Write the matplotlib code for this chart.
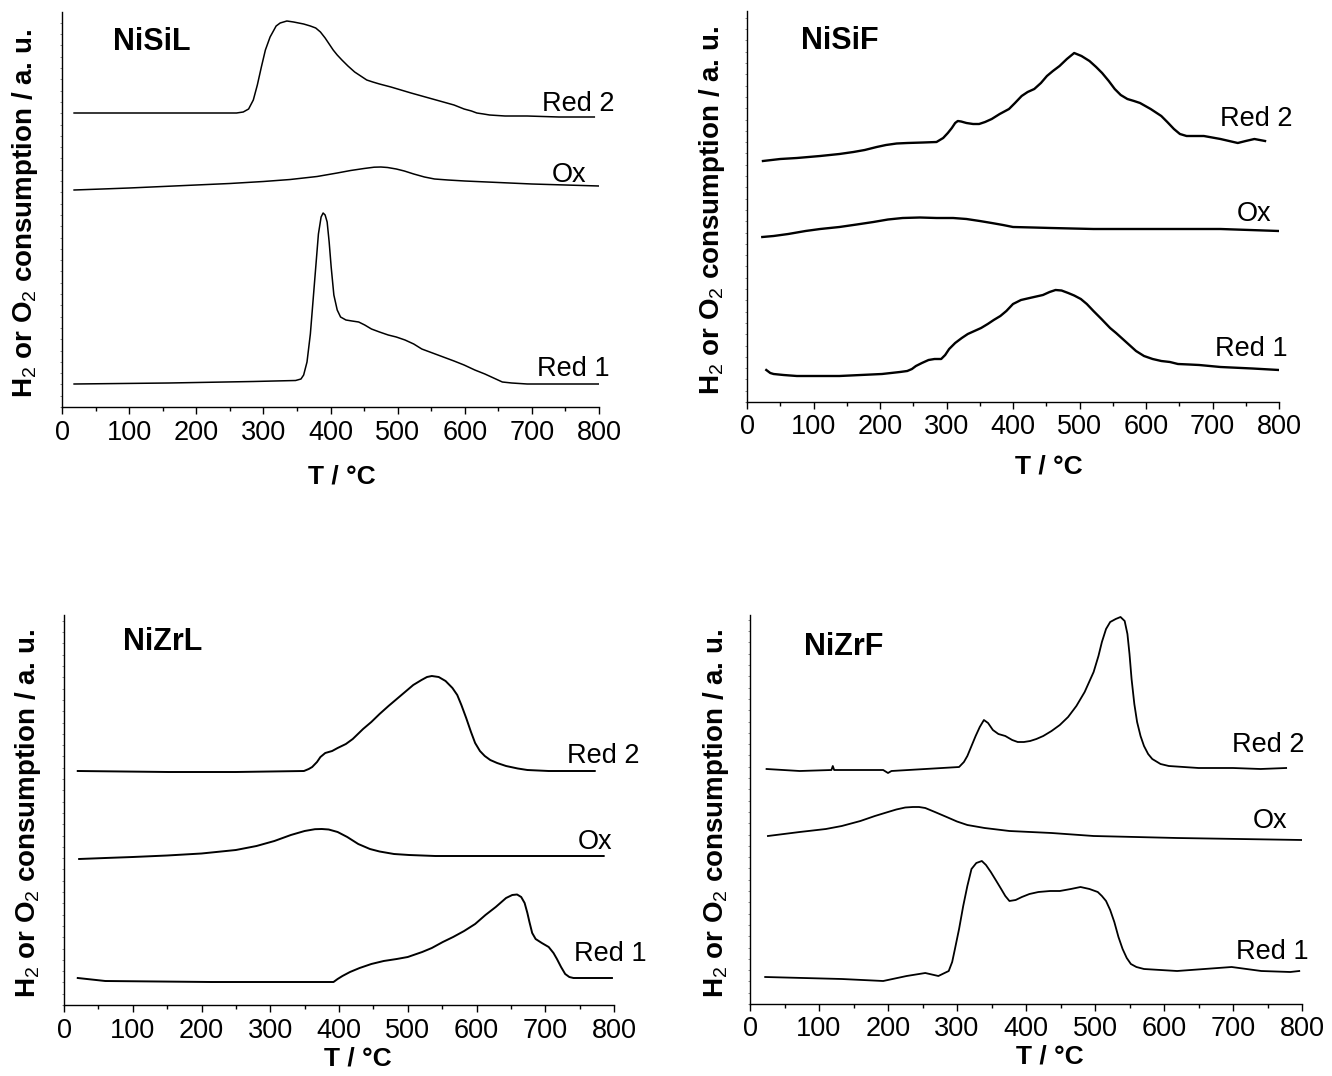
import matplotlib
matplotlib.use("Agg")
import matplotlib.pyplot as plt
from matplotlib.ticker import MultipleLocator

plt.rcParams["font.family"] = ["Liberation Sans", "DejaVu Sans"]
plt.rcParams["mathtext.fontset"] = "custom"
plt.rcParams["mathtext.rm"] = "Liberation Sans"
plt.rcParams["mathtext.it"] = "Liberation Sans:italic"
plt.rcParams["mathtext.bf"] = "Liberation Sans:bold"

# ---------------- NiSiL ----------------
nisil_red2_T = [18, 150, 260, 270, 278, 285, 291, 297, 303, 310, 319, 325, 335, 345, 360, 370,
                378, 385, 392, 398, 404, 410, 417, 426, 436, 445, 454, 463, 473, 490, 505, 520,
                536, 552, 568, 584, 599, 610, 618, 628, 637, 660, 693, 740, 793]
nisil_red2_y = [294, 294, 294, 295, 298, 307, 322, 340, 357, 370, 381, 384, 386, 385, 383, 381,
                379, 375, 369, 363, 357, 352, 347, 341, 335, 331, 327, 325, 323, 320, 317, 314,
                311, 308, 305, 302, 298, 296, 294, 293, 292, 291, 291, 290, 290]
nisil_ox_T = [18, 60, 100, 150, 200, 250, 300, 340, 380, 410, 430, 450, 465, 475, 485, 498,
              510, 524, 540, 555, 575, 600, 650, 700, 750, 800]
nisil_ox_y = [217, 218, 219, 220.5, 222, 223.5, 225.5, 227.5, 230.5, 234, 236.5, 238.5, 239.8,
              240, 239.5, 238, 236, 233, 230, 228, 227, 226, 224.5, 223, 222, 221]
nisil_red1_T = [18, 159, 285, 348, 356, 360, 365, 370, 376, 382, 386, 389, 392, 395, 398, 401,
                405, 410, 415, 423, 432, 442, 451, 461, 473, 486, 498, 511, 524, 536, 552, 568,
                584, 599, 615, 630, 643, 656, 670, 693, 740, 800]
nisil_red1_y = [23, 24, 25.5, 26.5, 28, 32, 45, 73, 123, 173, 190, 194, 192, 185, 165, 140,
                112, 97, 90, 87, 86, 85, 82, 78, 75, 72, 70, 67, 63, 58, 54, 50,
                46, 42, 37, 33, 29, 25, 24, 23, 23, 23]

# ---------------- NiSiF ----------------
nisif_red2_T = [24, 50, 75, 110, 139, 160, 177, 195, 209, 225, 241, 265, 285, 295, 302, 308,
                313, 317, 322, 330, 340, 349, 358, 368, 380, 394, 403, 413, 422, 432, 442, 451,
                460, 470, 481, 492, 503, 515, 525, 534, 544, 553, 562, 572, 582, 591, 607, 623,
                632, 642, 651, 661, 687, 712, 738, 750, 763, 779]
nisif_red2_y = [241, 243, 244, 246, 248, 250, 252, 255, 257, 258.5, 259, 259.5, 260, 264, 269, 274,
                279, 281, 280.5, 279, 278, 278, 280, 283, 288, 293, 299, 306, 310, 313, 319, 326,
                331, 336, 343, 349, 346, 341, 335, 329, 321, 313, 307, 303, 301, 299, 293, 286,
                280, 273, 268, 266, 266, 263, 259, 261, 263, 261]
nisif_ox_T = [23, 40, 62, 88, 110, 139, 165, 190, 212, 234, 260, 285, 310, 330, 350, 368,
              385, 400, 430, 457, 521, 648, 712, 800]
nisif_ox_y = [165, 166, 168, 171, 173, 175, 177.5, 180, 182.5, 184, 184.5, 184, 184, 183, 181,
              179, 177, 175, 174.5, 174, 173, 173, 173, 171]
nisif_red1_T = [29, 35, 40, 55, 75, 139, 203, 230, 241, 248, 254, 263, 273, 282, 292, 298,
                304, 313, 323, 332, 342, 352, 362, 371, 381, 390, 400, 412, 425, 435, 445, 455,
                464, 473, 483, 492, 502, 511, 521, 533, 546, 555, 565, 575, 585, 597, 610, 623,
                636, 648, 665, 680, 712, 760, 800]
nisif_red1_y = [32, 29, 28, 27, 26, 26, 28, 30, 31, 33, 36, 39, 42, 43, 43, 47,
                53, 59, 64, 68, 71, 74, 78, 82, 86, 91, 98, 102, 104, 105.5, 107, 110,
                112, 111.5, 109, 106.5, 103, 98, 91, 83, 74, 69, 63, 57, 51, 46, 43, 41,
                40, 38, 37.5, 37, 35, 33.5, 32]

# ---------------- NiZrL ----------------
nizrl_red2_T = [20, 152, 250, 349, 356, 361, 368, 373, 380, 390, 398, 410, 420, 435, 447, 459,
                472, 484, 496, 508, 520, 528, 535, 545, 555, 565, 572, 578, 585, 592, 598, 605,
                612, 620, 630, 643, 660, 674, 705, 772]
nizrl_red2_y = [234, 233, 233, 234, 236, 238, 243, 248, 252, 254, 257, 261, 266, 276, 283, 291,
                299, 306, 313, 320, 325, 328, 329, 328, 324, 317, 310, 300, 287, 273, 262, 254,
                249, 245, 242, 239, 236.5, 235, 234, 234]
nizrl_ox_T = [22, 60, 100, 150, 200, 250, 280, 306, 330, 350, 365, 375, 385, 398, 412, 428,
              445, 459, 480, 502, 540, 600, 785]
nizrl_ox_y = [146, 147, 148, 149.5, 151.5, 155, 159, 164, 170, 174, 175.8, 176, 175.5, 173,
              168, 161, 156, 153.5, 151, 150, 149, 149, 149]
nizrl_red1_T = [20, 60, 214, 392, 398, 405, 416, 430, 447, 465, 484, 500, 521, 535, 551, 566,
                582, 598, 613, 628, 643, 652, 659, 665, 670, 674, 677, 681, 686, 695, 705, 712,
                717, 723, 729, 735, 741, 797]
nizrl_red1_y = [27, 24, 23, 23, 26, 29, 33, 37, 41, 44, 46, 48, 53, 57, 63, 68,
                74, 81, 90, 98, 107, 110, 110.5, 108, 102, 92, 83, 72, 66, 62, 58, 52,
                46, 38, 31, 28, 27, 27]

# ---------------- NiZrF ----------------
nizrf_red2_T = [24, 72, 118, 120, 122, 193, 200, 205, 254, 303, 310, 315, 321, 327, 333, 339,
                345, 352, 360, 370, 380, 388, 397, 406, 415, 425, 437, 449, 461, 473, 485, 498,
                505, 510, 516, 522, 530, 537, 543, 547, 550, 553, 557, 561, 566, 571, 577, 583,
                595, 607, 650, 700, 740, 777]
nizrf_red2_y = [235, 233, 234, 238, 234, 234, 231, 233, 235, 237, 242, 248, 258, 268, 277, 284,
                281, 274, 270, 268, 264, 262, 262, 263, 265, 268, 273, 279, 287, 298, 312, 332,
                348, 362, 375, 382, 385, 387, 383, 370, 350, 325, 300, 282, 268, 258, 250, 245,
                240, 238, 236, 236, 235, 236]
nizrf_ox_T = [26, 72, 110, 133, 160, 181, 200, 212, 225, 236, 245, 254, 268, 285, 300, 315,
              340, 376, 437, 498, 619, 800]
nizrf_ox_y = [168, 172, 175, 178, 183, 188, 192, 194.5, 196.5, 197, 197, 196, 192, 187, 182.5,
              179, 176, 173, 171, 168, 166, 164]
nizrf_red1_T = [22, 133, 193, 227, 254, 273, 288, 293, 297, 303, 309, 315, 321, 328, 336, 342,
                349, 357, 364, 370, 376, 385, 394, 405, 418, 435, 449, 465, 479, 492, 504, 510,
                516, 522, 528, 534, 540, 546, 552, 560, 571, 619, 698, 741, 783, 796]
nizrf_red1_y = [27, 25, 23, 28, 31, 28, 33, 42, 55, 75, 98, 118, 135, 141, 143, 139,
                132, 123, 115, 108, 103, 104, 107, 110, 112, 113, 113, 115, 117, 115, 112, 108,
                103, 94, 82, 67, 55, 46, 40, 37, 35, 33, 37, 33, 32, 33]

curve_labels = ["Red 2", "Ox", "Red 1"]

W, H = 1332, 1076
fig = plt.figure(figsize=(W / 100, H / 100), dpi=100)

panels = [
    dict(title="NiSiL", box=(62, 599, 12, 407), lw=1.1,
         series=[(nisil_red2_T, nisil_red2_y), (nisil_ox_T, nisil_ox_y), (nisil_red1_T, nisil_red1_y)],
         label_pos=[(769, 303), (756, 232), (762, 38)], title_pos=(134, 365),
         xlab=(0.521, 477), ylab=25),
    dict(title="NiSiF", box=(747, 1279, 11, 402), lw=1.7,
         series=[(nisif_red2_T, nisif_red2_y), (nisif_ox_T, nisif_ox_y), (nisif_red1_T, nisif_red1_y)],
         label_pos=[(766, 283), (762, 188), (758, 53)], title_pos=(139, 361),
         xlab=(0.567, 466), ylab=712),
    dict(title="NiZrL", box=(64, 614, 615, 1005), lw=1.4,
         series=[(nizrl_red2_T, nizrl_red2_y), (nizrl_ox_T, nizrl_ox_y), (nizrl_red1_T, nizrl_red1_y)],
         label_pos=[(785, 249), (772, 163), (794, 51)], title_pos=(143, 363),
         xlab=(0.535, 1058), ylab=28),
    dict(title="NiZrF", box=(750, 1302, 615, 1004), lw=1.3,
         series=[(nizrf_red2_T, nizrf_red2_y), (nizrf_ox_T, nizrf_ox_y), (nizrf_red1_T, nizrf_red1_y)],
         label_pos=[(751, 259), (753, 183), (757, 52)], title_pos=(136, 357),
         xlab=(0.543, 1057), ylab=716),
]

for p in panels:
    x0, x1, y0, y1 = p["box"]
    ax = fig.add_axes([x0 / W, 1 - y1 / H, (x1 - x0) / W, (y1 - y0) / H])
    height = y1 - y0
    for T, y in p["series"]:
        ax.plot(T, y, color="black", lw=p["lw"], solid_joinstyle="round")
    for name, (tx, ty) in zip(curve_labels, p["label_pos"]):
        ax.text(tx, ty, name, ha="center", va="center", fontsize=19.5)
    ax.text(p["title_pos"][0], p["title_pos"][1], p["title"], ha="center", va="center",
            fontsize=22, fontweight="bold")

    ax.set_xlim(0, 800)
    ax.set_ylim(0, height)
    for s in ("top", "right"):
        ax.spines[s].set_visible(False)
    for s in ("left", "bottom"):
        ax.spines[s].set_linewidth(1.0)

    ax.xaxis.set_major_locator(MultipleLocator(100))
    ax.xaxis.set_minor_locator(MultipleLocator(50))
    ax.tick_params(axis="x", which="major", direction="out", length=5, width=1.0,
                   labelsize=19.5, pad=4.0)
    ax.tick_params(axis="x", which="minor", direction="out", length=3, width=1.0)
    ax.yaxis.set_major_locator(MultipleLocator(11.3))
    ax.tick_params(axis="y", which="major", direction="out", length=1.8, width=0.6,
                   color="#777777", labelleft=False)

    ax.set_xlabel("T / °C", fontsize=19, fontweight="bold")
    ax.xaxis.label.set_va("center")
    ax.xaxis.set_label_coords(p["xlab"][0], -(p["xlab"][1] - y1) / height)

    ax.set_ylabel(r"H$_2$ or O$_2$ consumption / a. u.", fontsize=20, fontweight="bold")
    ax.yaxis.label.set_va("center")
    ax.yaxis.set_label_coords(-(x0 - p["ylab"]) / (x1 - x0), 0.49)

fig.savefig("out.png", dpi=100, facecolor="white")
